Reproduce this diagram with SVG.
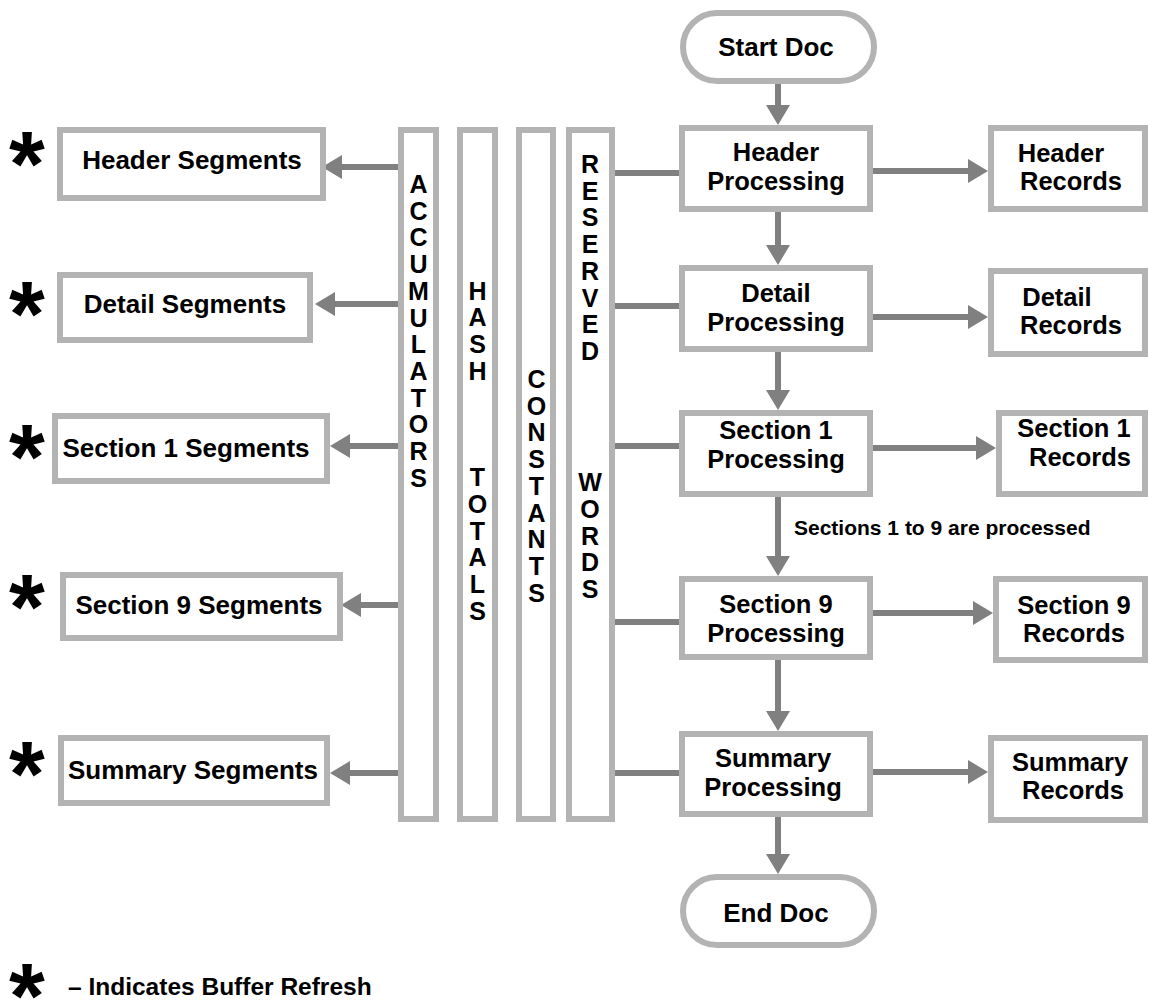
<svg xmlns="http://www.w3.org/2000/svg" width="1149" height="1001" viewBox="0 0 1149 1001">
<style>
.box{fill:#fff;stroke:#b3b3b3;stroke-width:6}
.col{fill:#fff;stroke:#b3b3b3;stroke-width:6}
.ln{stroke:#808080;stroke-width:6;fill:none}
.arr{stroke:#808080;stroke-width:6;fill:none;marker-end:url(#ah)}
text{font-family:"Liberation Sans",Arial,Helvetica,sans-serif;font-weight:bold;fill:#000}
.t{font-size:26px;text-anchor:middle}
.t2{font-size:25.5px;text-anchor:middle}
.v{font-size:25px;text-anchor:middle}
.star{font-size:92px;text-anchor:middle}
.note{font-size:21px}
.leg{font-size:24.5px}
</style>
<defs>
<marker id="ah" markerWidth="20" markerHeight="24" refX="0" refY="12" orient="auto" markerUnits="userSpaceOnUse">
<path d="M0,0 L20,12 L0,24 z" fill="#808080"/>
</marker>
</defs>
<rect width="1149" height="1001" fill="#fff"/>

<g id="connectors">
<line class="arr" x1="778" y1="84" x2="778" y2="105"/>
<line class="arr" x1="778" y1="212" x2="778" y2="245"/>
<line class="arr" x1="778" y1="352" x2="778" y2="390"/>
<line class="arr" x1="778" y1="497" x2="778" y2="556"/>
<line class="arr" x1="778" y1="660" x2="778" y2="711"/>
<line class="arr" x1="778" y1="817" x2="778" y2="854"/>
<line class="arr" x1="873" y1="171" x2="968" y2="171"/>
<line class="arr" x1="873" y1="317" x2="968" y2="317"/>
<line class="arr" x1="873" y1="448" x2="976" y2="448"/>
<line class="arr" x1="873" y1="613" x2="973" y2="613"/>
<line class="arr" x1="873" y1="772" x2="968" y2="772"/>
<line class="ln" x1="615" y1="173" x2="680" y2="173"/>
<line class="ln" x1="615" y1="306" x2="680" y2="306"/>
<line class="ln" x1="615" y1="446" x2="680" y2="446"/>
<line class="ln" x1="615" y1="622" x2="680" y2="622"/>
<line class="ln" x1="615" y1="773" x2="680" y2="773"/>
<line class="arr" x1="399" y1="167" x2="342" y2="167"/>
<line class="arr" x1="399" y1="304" x2="335" y2="304"/>
<line class="arr" x1="399" y1="446" x2="350" y2="446"/>
<line class="arr" x1="399" y1="605" x2="361" y2="605"/>
<line class="arr" x1="399" y1="773" x2="350" y2="773"/>
</g>

<g id="col-accumulators">
<rect class="col" x="401" y="130" width="35" height="689"/>
<text class="v"><tspan x="418.5" y="193">A</tspan><tspan x="418.5" y="219.7">C</tspan><tspan x="418.5" y="246.4">C</tspan><tspan x="418.5" y="273.1">U</tspan><tspan x="418.5" y="299.8">M</tspan><tspan x="418.5" y="326.5">U</tspan><tspan x="418.5" y="353.2">L</tspan><tspan x="418.5" y="379.9">A</tspan><tspan x="418.5" y="406.6">T</tspan><tspan x="418.5" y="433.3">O</tspan><tspan x="418.5" y="460">R</tspan><tspan x="418.5" y="486.7">S</tspan></text>
</g>
<g id="col-hash-totals">
<rect class="col" x="460" y="130" width="35" height="689"/>
<text class="v"><tspan x="477.5" y="299.7">H</tspan><tspan x="477.5" y="326.4">A</tspan><tspan x="477.5" y="353.1">S</tspan><tspan x="477.5" y="379.8">H</tspan><tspan x="477.5" y="486.3">T</tspan><tspan x="477.5" y="513">O</tspan><tspan x="477.5" y="539.7">T</tspan><tspan x="477.5" y="566.4">A</tspan><tspan x="477.5" y="593.1">L</tspan><tspan x="477.5" y="619.8">S</tspan></text>
</g>
<g id="col-constants">
<rect class="col" x="519" y="130" width="34" height="689"/>
<text class="v"><tspan x="536.5" y="388">C</tspan><tspan x="536.5" y="414.7">O</tspan><tspan x="536.5" y="441.4">N</tspan><tspan x="536.5" y="468.1">S</tspan><tspan x="536.5" y="494.8">T</tspan><tspan x="536.5" y="521.5">A</tspan><tspan x="536.5" y="548.2">N</tspan><tspan x="536.5" y="574.9">T</tspan><tspan x="536.5" y="601.6">S</tspan></text>
</g>
<g id="col-reserved-words">
<rect class="col" x="569" y="130" width="43" height="689"/>
<text class="v"><tspan x="590" y="173">R</tspan><tspan x="590" y="199.7">E</tspan><tspan x="590" y="226.4">S</tspan><tspan x="590" y="253.1">E</tspan><tspan x="590" y="279.8">R</tspan><tspan x="590" y="306.5">V</tspan><tspan x="590" y="333.2">E</tspan><tspan x="590" y="359.9">D</tspan><tspan x="590" y="491.3">W</tspan><tspan x="590" y="518">O</tspan><tspan x="590" y="544.7">R</tspan><tspan x="590" y="571.4">D</tspan><tspan x="590" y="598.1">S</tspan></text>
</g>

<g id="start-doc">
<rect class="box" x="683" y="13" width="191" height="68" rx="34"/>
<text class="t" x="776" y="56">Start Doc</text>
</g>
<g id="header-processing">
<rect class="box" x="682" y="128" width="188" height="81"/>
<text class="t2"><tspan x="776" y="161.2">Header</tspan><tspan x="776" y="189.8">Processing</tspan></text>
</g>
<g id="detail-processing">
<rect class="box" x="682" y="268" width="188" height="81"/>
<text class="t2"><tspan x="776" y="302.2">Detail</tspan><tspan x="776" y="330.8">Processing</tspan></text>
</g>
<g id="section1-processing">
<rect class="box" x="682" y="413" width="188" height="81"/>
<text class="t2"><tspan x="776" y="439.2">Section 1</tspan><tspan x="776" y="467.8">Processing</tspan></text>
</g>
<g id="section9-processing">
<rect class="box" x="682" y="579" width="188" height="78"/>
<text class="t2"><tspan x="776" y="613.2">Section 9</tspan><tspan x="776" y="641.8">Processing</tspan></text>
</g>
<g id="summary-processing">
<rect class="box" x="682" y="734" width="188" height="80"/>
<text class="t2"><tspan x="773" y="767.2">Summary</tspan><tspan x="773" y="795.8">Processing</tspan></text>
</g>
<g id="end-doc">
<rect class="box" x="683" y="877" width="191" height="68" rx="34"/>
<text class="t" x="776" y="922">End Doc</text>
</g>

<g id="header-records">
<rect class="box" x="991" y="128" width="154" height="81"/>
<text class="t2"><tspan x="1061" y="161.7">Header</tspan><tspan x="1071" y="190.3">Records</tspan></text>
</g>
<g id="detail-records">
<rect class="box" x="991" y="271" width="154" height="83"/>
<text class="t2"><tspan x="1057" y="305.7">Detail</tspan><tspan x="1071" y="334.3">Records</tspan></text>
</g>
<g id="section1-records">
<rect class="box" x="999" y="413" width="146" height="81"/>
<text class="t2"><tspan x="1074" y="437.2">Section 1</tspan><tspan x="1080" y="465.8">Records</tspan></text>
</g>
<g id="section9-records">
<rect class="box" x="996" y="579" width="149" height="81"/>
<text class="t2"><tspan x="1074" y="613.7">Section 9</tspan><tspan x="1074" y="642.3">Records</tspan></text>
</g>
<g id="summary-records">
<rect class="box" x="991" y="738" width="154" height="82"/>
<text class="t2"><tspan x="1070" y="770.7">Summary</tspan><tspan x="1073" y="799.3">Records</tspan></text>
</g>

<text class="note" x="794" y="535">Sections 1 to 9 are processed</text>

<g id="header-segments">
<rect class="box" x="60" y="130" width="263" height="68"/>
<text class="t" x="192" y="169">Header Segments</text>
</g>
<g id="detail-segments">
<rect class="box" x="60" y="275" width="250" height="65"/>
<text class="t" x="185" y="313">Detail Segments</text>
</g>
<g id="section1-segments">
<rect class="box" x="55" y="416" width="272" height="65"/>
<text class="t" x="186" y="457">Section 1 Segments</text>
</g>
<g id="section9-segments">
<rect class="box" x="63" y="575" width="277" height="63"/>
<text class="t" x="199" y="614">Section 9 Segments</text>
</g>
<g id="summary-segments">
<rect class="box" x="61" y="738" width="266" height="65"/>
<text class="t" x="193" y="779">Summary Segments</text>
</g>

<g id="asterisks">
<text class="star" x="27" y="196">*</text>
<text class="star" x="27" y="346">*</text>
<text class="star" x="27" y="489">*</text>
<text class="star" x="27" y="639">*</text>
<text class="star" x="27" y="806">*</text>
<text class="star" x="27" y="1028">*</text>
</g>
<text class="leg" x="68" y="995">– Indicates Buffer Refresh</text>
</svg>
